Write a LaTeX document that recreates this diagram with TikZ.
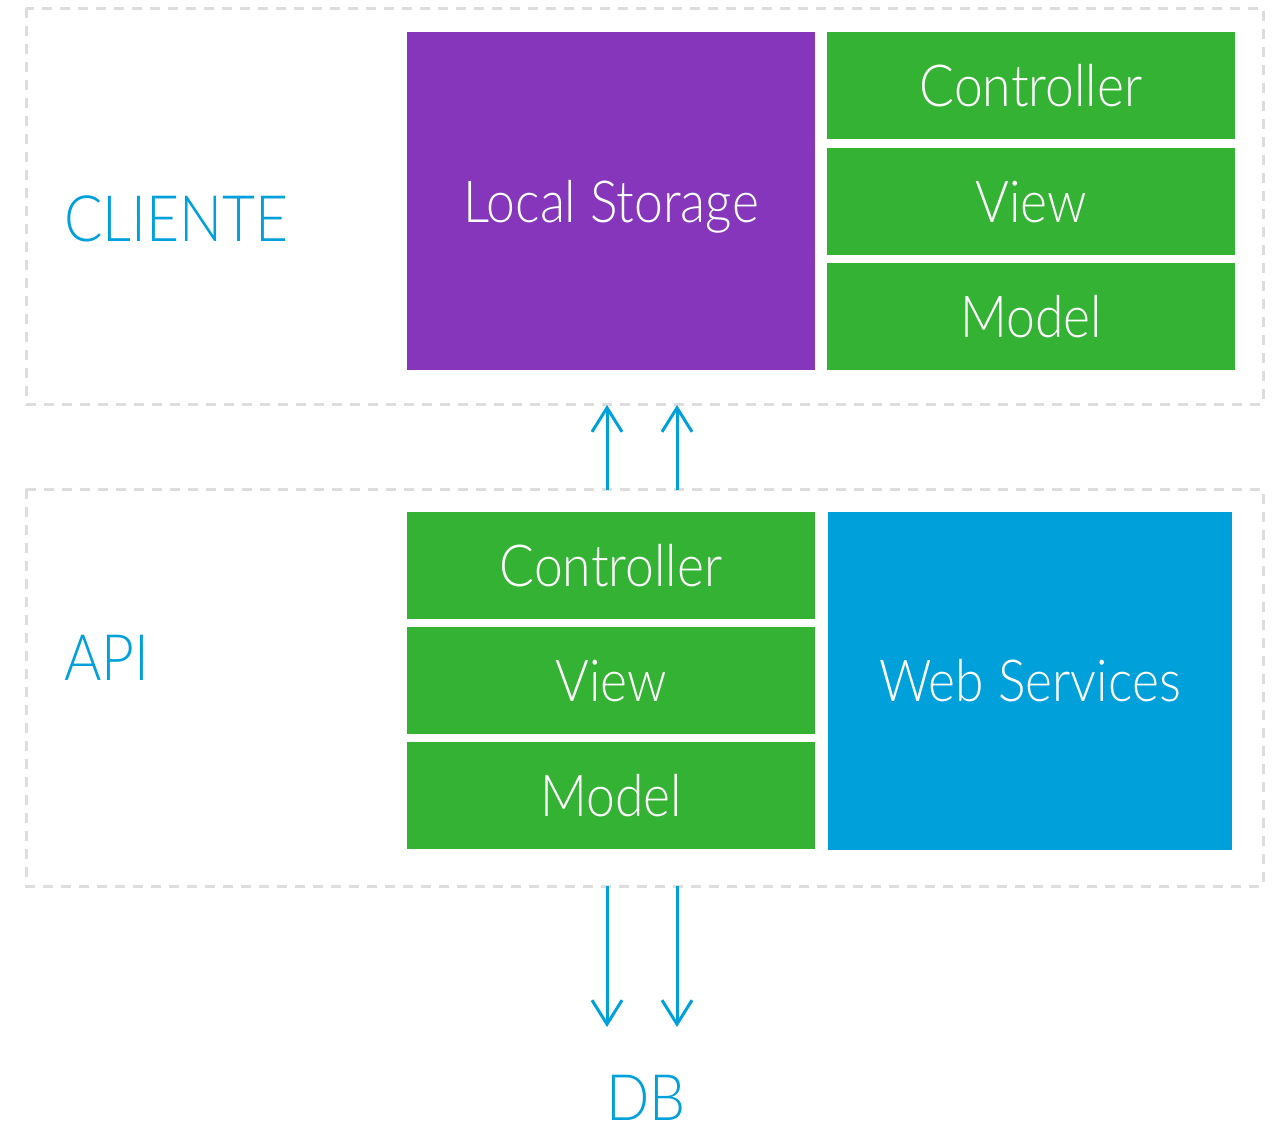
\documentclass[tikz,border=0pt]{standalone}
\usepackage{fontspec}
\setmainfont{Lato}[UprightFont={* Light}, FakeStretch=0.89]
\usetikzlibrary{arrows.meta}
\definecolor{cgreen}{RGB}{52,178,51}
\definecolor{cpurple}{RGB}{133,54,186}
\definecolor{cblue}{RGB}{0,160,218}
\definecolor{cdash}{RGB}{221,221,221}
\tikzset{
  blk/.style={draw=none, inner sep=0pt, outer sep=0pt, text=white, font=\fontsize{58}{60}\selectfont, text height=42pt, text depth=0pt},
  grn/.style={blk, fill=cgreen},
  zone/.style={draw=cdash, line width=3pt, dash pattern=on 10pt off 8pt},
  ttl/.style={text=cblue, inner sep=0pt, font=\fontsize{64}{66}\selectfont, anchor=base west, text height=46pt, text depth=0pt},
  flow/.style={draw=cblue, line width=3pt, -{Straight Barb[length=24pt,width=30pt,line width=3pt]}}
}
\begin{document}
\begin{tikzpicture}[x=1pt,y=-1pt]
\useasboundingbox (0,0) rectangle (1274,1127);
% zones
\draw[zone] (26,8) rectangle (1263,404);
\draw[zone] (26,489) rectangle (1263,886);
% client blocks
\node[blk, fill=cpurple, minimum width=408pt, minimum height=338pt] (ls) at (611,201) {Local Storage};
\node[grn, minimum width=408pt, minimum height=107pt] (cc) at (1031,85.5) {Controller};
\node[grn, minimum width=408pt, minimum height=107pt] (cv) at (1031,201.5) {View};
\node[grn, minimum width=408pt, minimum height=107pt] (cm) at (1031,316.5) {Model};
% api blocks
\node[grn, minimum width=408pt, minimum height=107pt] (ac) at (611,565.5) {Controller};
\node[grn, minimum width=408pt, minimum height=107pt] (av) at (611,680.5) {View};
\node[grn, minimum width=408pt, minimum height=107pt] (am) at (611,795.5) {Model};
\node[blk, fill=cblue, minimum width=404pt, minimum height=338pt] (ws) at (1030,680.5) {Web Services};
% titles
\node[ttl] (cli) at (64,241) {CLIENTE};
\node[ttl] (api) at (64,680) {API};
\node[ttl, anchor=base] (db) at (646,1120) {DB};
% arrows
\coordinate (u1s) at (607,490);
\coordinate (u1e) at (607,405);
\coordinate (u2s) at (677,490);
\coordinate (u2e) at (677,405);
\coordinate (d1s) at (607,886);
\coordinate (d1e) at (607,1027);
\coordinate (d2s) at (677,886);
\coordinate (d2e) at (677,1027);
\draw[flow] (u1s) -- (u1e);
\draw[flow] (u2s) -- (u2e);
\draw[flow] (d1s) -- (d1e);
\draw[flow] (d2s) -- (d2e);
\end{tikzpicture}
\end{document}
